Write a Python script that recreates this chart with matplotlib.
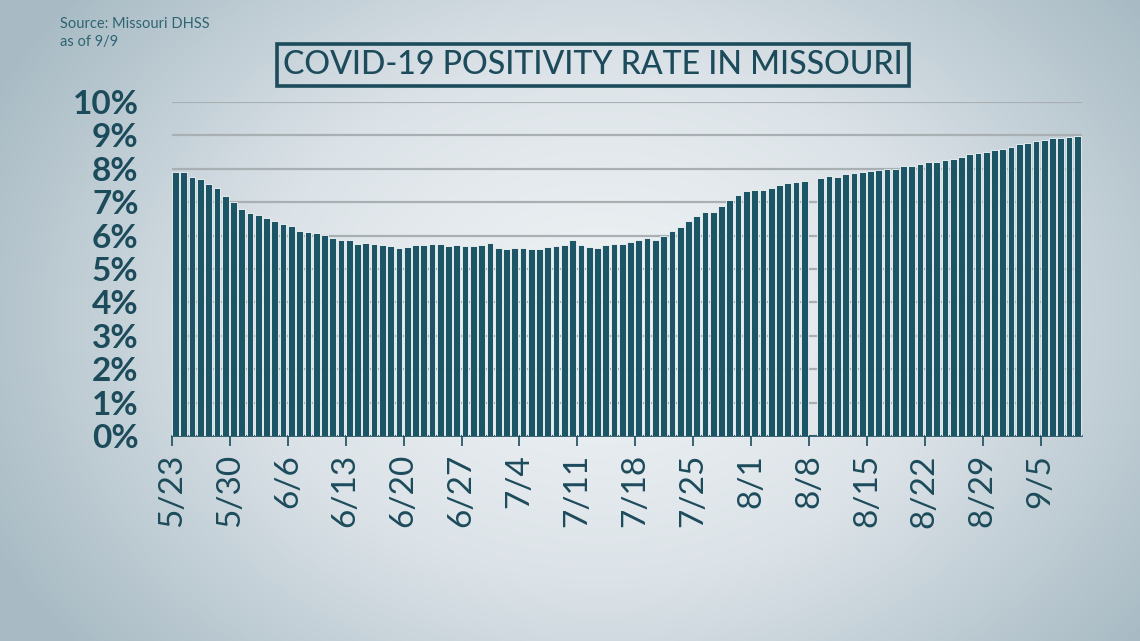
import numpy as np
import matplotlib
matplotlib.use("Agg")
import matplotlib.pyplot as plt
from matplotlib.colors import LinearSegmentedColormap

# --------------------- data ---------------------
DAY_LABELS = ["5/23", "5/30", "6/6", "6/13", "6/20", "6/27", "7/4", "7/11",
              "7/18", "7/25", "8/1", "8/8", "8/15", "8/22", "8/29", "9/5"]

# daily positivity rate (%) from 5/23 to 9/9, None = no data (8/8)
rate = [
    7.91, 7.89, 7.75, 7.68, 7.55, 7.42, 7.20, 7.00, 6.80, 6.68,
    6.63, 6.52, 6.45, 6.36, 6.28, 6.15, 6.11, 6.07, 6.03, 5.94,
    5.88, 5.86, 5.75, 5.79, 5.76, 5.71, 5.70, 5.62, 5.66, 5.71,
    5.71, 5.76, 5.76, 5.68, 5.71, 5.70, 5.70, 5.73, 5.79, 5.62,
    5.61, 5.64, 5.62, 5.59, 5.59, 5.66, 5.70, 5.71, 5.86, 5.71,
    5.66, 5.62, 5.71, 5.74, 5.75, 5.82, 5.86, 5.92, 5.88, 6.00,
    6.13, 6.25, 6.44, 6.58, 6.71, 6.72, 6.88, 7.07, 7.23, 7.34,
    7.36, 7.38, 7.43, 7.51, 7.57, 7.60, 7.62, None, 7.71, 7.78,
    7.74, 7.84, 7.87, 7.90, 7.94, 7.97, 7.99, 7.99, 8.07, 8.09,
    8.14, 8.20, 8.20, 8.25, 8.29, 8.36, 8.43, 8.46, 8.50, 8.57,
    8.60, 8.64, 8.73, 8.76, 8.82, 8.87, 8.92, 8.92, 8.94, 8.99,
]
Y_TICKS = list(range(0, 11))

TEAL = "#1b5566"
TEXT = "#1c4b5b"
FONTS = ["Lato", "DejaVu Sans"]

# --------------------- figure + gradient background ---------------------
fig = plt.figure(figsize=(11.4, 6.41), dpi=100)
bg = fig.add_axes([0, 0, 1, 1], zorder=-10)
yy, xx = np.mgrid[0:641, 0:1140]
r = np.sqrt(((xx - 600) / 680.0) ** 2 + ((yy - 320) / 520.0) ** 2)
cmap_bg = LinearSegmentedColormap.from_list("bg", ["#f0f4f6", "#dce3e8", "#a8bbc4"])
bg.imshow(np.clip(r, 0, 1), cmap=cmap_bg, vmin=0, vmax=1, aspect="auto")
bg.axis("off")

ax = fig.add_axes([172 / 1140, 1 - 436 / 641, 910 / 1140, 334 / 641])
ax.set_facecolor("none")

x = np.arange(len(rate))
vals = np.array([np.nan if v is None else v for v in rate])
ax.bar(x + 0.02, vals, width=0.82, align="edge", color=TEAL,
       edgecolor="#f4f7f8", linewidth=0.6, zorder=3)

ax.set_xlim(0, len(rate))
ax.set_ylim(0, 10)
ax.set_yticks(Y_TICKS)
ax.set_yticklabels([f"{t}%" for t in Y_TICKS], fontsize=24, fontweight="bold",
                   color=TEXT, family=FONTS)
ax.set_xticks(np.arange(0, len(rate), 7))
ax.set_xticklabels(DAY_LABELS, rotation=90, fontsize=24, color=TEXT, family=FONTS)
ax.tick_params(axis="y", length=0, pad=24)
ax.tick_params(axis="x", length=7, width=1.2, color=TEXT, pad=6)
ax.grid(axis="y", color="#a9b0b4", linewidth=1.6, zorder=0)
for s in ["top", "right", "left"]:
    ax.spines[s].set_visible(False)
ax.spines["bottom"].set_color(TEXT)
ax.spines["bottom"].set_linewidth(1.2)

# --------------------- titles ---------------------
fig.text(60 / 1140, 1 - 33 / 641, "Source: Missouri DHSS\nas of 9/9", fontsize=10.5,
         color="#2e6473", va="center", ha="left", linespacing=1.35, family=FONTS)
fig.text(593 / 1140, 1 - 65 / 641, "COVID-19 POSITIVITY RATE IN MISSOURI",
         fontsize=23, color=TEXT, ha="center", va="center", fontweight="medium",
         family=FONTS,
         bbox=dict(boxstyle="square,pad=0.2", facecolor="none",
                   edgecolor=TEXT, linewidth=2.6))

fig.savefig("out.png", dpi=100)
